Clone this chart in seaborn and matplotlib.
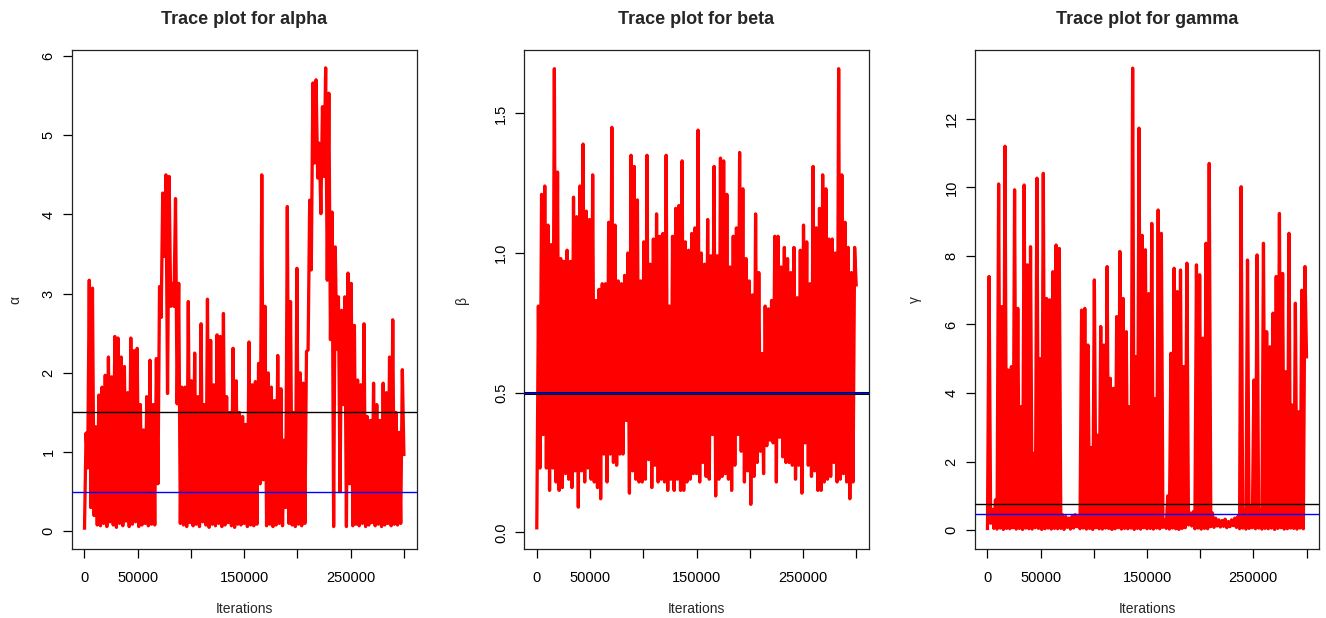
import numpy as np
import pandas as pd
import matplotlib
matplotlib.use("Agg")
import matplotlib.pyplot as plt
import seaborn as sns

# ---------------- data ----------------
N_ITER = 300000
BIN = 3000  # each entry summarises one block of 3000 iterations

# per-block lower / upper extent of the alpha trace
alpha_hi = [1.24, 3.17, 3.07, 1.32, 1.72, 1.82, 1.97, 2.20, 1.95, 2.46,
            2.44, 2.20, 2.08, 1.75, 2.44, 2.28, 2.31, 1.60, 1.28, 1.70,
            2.16, 1.60, 2.18, 3.09, 4.27, 4.50, 4.48, 3.13, 4.20, 3.13,
            1.82, 1.82, 2.90, 1.90, 2.25, 1.70, 2.62, 1.60, 2.93, 2.41,
            1.85, 2.48, 2.46, 2.75, 1.70, 1.50, 2.31, 1.90, 1.50, 1.45,
            1.35, 2.39, 1.85, 1.89, 2.12, 4.50, 2.84, 2.00, 1.82, 1.65,
            2.22, 1.80, 1.15, 4.10, 2.90, 1.50, 3.32, 2.00, 1.87, 2.27,
            4.18, 5.66, 5.70, 4.90, 5.36, 5.85, 5.53, 4.03, 3.59, 2.96,
            2.79, 2.96, 3.26, 3.13, 2.60, 1.91, 1.85, 2.62, 1.45, 1.40,
            1.87, 1.60, 1.40, 1.87, 1.75, 2.20, 2.67, 1.50, 1.25, 2.04]
alpha_lo = [0.02, 0.80, 0.30, 0.20, 0.08, 0.07, 0.10, 0.06, 0.12, 0.08,
            0.05, 0.10, 0.07, 0.13, 0.06, 0.09, 0.12, 0.06, 0.08, 0.10,
            0.07, 0.09, 0.08, 0.60, 2.70, 3.47, 1.74, 2.84, 2.84, 1.61,
            0.10, 0.08, 0.06, 0.11, 0.07, 0.09, 0.06, 0.12, 0.08, 0.05,
            0.09, 0.07, 0.10, 0.06, 0.08, 0.11, 0.07, 0.05, 0.09, 0.08,
            0.10, 0.06, 0.08, 0.07, 0.09, 0.60, 0.65, 0.07, 0.09, 0.06,
            0.08, 0.10, 0.07, 0.30, 0.10, 0.08, 0.06, 0.09, 0.07, 0.10,
            2.29, 3.30, 4.65, 4.46, 4.01, 4.48, 3.17, 2.42, 0.06, 2.30,
            0.50, 1.60, 0.06, 0.60, 0.07, 0.09, 0.07, 0.10, 0.06, 0.08,
            0.11, 0.07, 0.09, 0.06, 0.08, 0.10, 0.07, 0.09, 0.08, 0.10]
alpha_end = 0.95

beta_hi = [0.81, 1.21, 1.24, 1.10, 1.03, 1.66, 1.29, 0.98, 0.97, 1.01,
           0.97, 1.20, 1.13, 1.24, 1.39, 1.15, 1.12, 1.28, 0.83, 0.87,
           0.89, 0.89, 1.11, 1.45, 1.10, 0.90, 0.89, 0.92, 1.00, 1.35,
           1.31, 1.19, 0.90, 1.04, 1.35, 0.96, 1.05, 1.14, 1.06, 1.07,
           1.35, 0.81, 1.06, 1.16, 1.17, 1.33, 1.04, 1.01, 1.07, 1.09,
           1.44, 1.00, 0.96, 1.12, 0.99, 1.31, 0.99, 1.34, 1.33, 1.21,
           0.95, 1.06, 1.09, 1.36, 1.23, 0.98, 0.90, 0.85, 1.14, 0.93,
           0.64, 0.81, 0.80, 0.83, 1.06, 1.06, 0.95, 1.02, 0.98, 0.93,
           1.02, 0.84, 1.01, 1.10, 1.04, 0.89, 1.31, 1.09, 1.16, 1.28,
           1.23, 1.05, 1.05, 1.00, 1.66, 1.28, 1.11, 1.02, 0.93, 1.02]
beta_lo = [0.01, 0.23, 0.35, 0.23, 0.15, 0.23, 0.18, 0.15, 0.16, 0.21,
           0.19, 0.16, 0.22, 0.09, 0.22, 0.18, 0.23, 0.19, 0.18, 0.16,
           0.12, 0.28, 0.18, 0.28, 0.25, 0.24, 0.28, 0.28, 0.40, 0.14,
           0.22, 0.19, 0.18, 0.18, 0.19, 0.26, 0.16, 0.24, 0.18, 0.19,
           0.18, 0.15, 0.19, 0.15, 0.19, 0.15, 0.15, 0.18, 0.19, 0.21,
           0.21, 0.18, 0.25, 0.20, 0.19, 0.35, 0.13, 0.19, 0.20, 0.21,
           0.19, 0.15, 0.24, 0.35, 0.29, 0.18, 0.22, 0.10, 0.20, 0.25,
           0.29, 0.21, 0.31, 0.33, 0.32, 0.18, 0.34, 0.27, 0.25, 0.25,
           0.24, 0.19, 0.24, 0.14, 0.32, 0.24, 0.20, 0.22, 0.15, 0.15,
           0.18, 0.19, 0.20, 0.25, 0.18, 0.19, 0.21, 0.18, 0.12, 0.18]
beta_end = 0.88

gamma_hi = [7.40, 0.60, 0.88, 10.10, 6.52, 11.20, 4.67, 4.77, 9.93, 6.47,
            3.60, 10.07, 7.74, 8.27, 2.24, 10.27, 5.00, 10.41, 6.76, 6.72,
            7.54, 8.32, 8.22, 0.45, 0.40, 0.35, 0.40, 0.45, 0.40, 6.42,
            6.47, 5.40, 2.40, 7.30, 2.77, 5.94, 5.40, 7.69, 4.43, 4.14,
            6.23, 8.13, 6.76, 5.79, 3.60, 13.48, 5.06, 11.73, 8.60, 8.18,
            6.90, 8.95, 3.84, 9.34, 8.66, 0.30, 1.00, 5.16, 7.64, 6.96,
            7.59, 4.77, 7.79, 0.50, 0.54, 7.74, 7.45, 5.60, 8.37, 10.70,
            0.50, 0.35, 0.30, 0.28, 0.32, 0.25, 0.30, 0.35, 0.40, 10.02,
            0.58, 7.88, 0.68, 4.38, 8.03, 0.58, 8.37, 5.79, 5.35, 6.33,
            7.40, 9.24, 7.49, 4.62, 8.66, 3.65, 6.62, 3.45, 7.00, 7.69]
gamma_lo = [0.00, 0.20, 0.05, 0.03, 0.06, 0.02, 0.05, 0.04, 0.07, 0.03,
            0.05, 0.02, 0.06, 0.04, 0.03, 0.07, 0.05, 0.02, 0.04, 0.06,
            0.03, 0.05, 0.04, 0.05, 0.02, 0.08, 0.03, 0.06, 0.10, 0.04,
            0.06, 0.03, 0.05, 0.02, 0.07, 0.04, 0.03, 0.06, 0.05, 0.02,
            0.04, 0.07, 0.03, 0.05, 0.04, 0.06, 0.02, 0.05, 0.03, 0.07,
            0.04, 0.05, 0.03, 0.06, 0.04, 0.08, 0.05, 0.03, 0.06, 0.04,
            0.02, 0.05, 0.07, 0.15, 0.12, 0.04, 0.06, 0.03, 0.05, 0.04,
            0.10, 0.08, 0.12, 0.09, 0.11, 0.07, 0.10, 0.13, 0.08, 0.04,
            0.06, 0.03, 0.05, 0.07, 0.04, 0.06, 0.03, 0.05, 0.04, 0.06,
            0.02, 0.05, 0.07, 0.03, 0.04, 0.06, 0.05, 0.03, 0.06, 0.04]
gamma_end = 5.01

# reference lines (black, blue)
black_lines = [1.5, 0.5, 0.75]
blue_lines = [0.5, 0.5, 0.48]

titles = ["Trace plot for alpha", "Trace plot for beta", "Trace plot for gamma"]
ylabels = ["\u03b1", "\u03b2", "\u03b3"]
xticks = [0, 50000, 100000, 150000, 200000, 250000, 300000]
xticklabels = ["0", "50000", "", "150000", "", "250000", ""]
yticks_list = [[0, 1, 2, 3, 4, 5, 6], [0.0, 0.5, 1.0, 1.5], [0, 2, 4, 6, 8, 10, 12]]
ytick_labels_list = [["0", "1", "2", "3", "4", "5", "6"],
                     ["0.0", "0.5", "1.0", "1.5"],
                     ["0", "2", "4", "6", "8", "10", "12"]]
ylims = [(-0.227, 6.076), (-0.061, 1.727), (-0.56, 14.01)]

# ---------------- style ----------------
sns.set_style("white")
plt.rcParams["font.family"] = ["Liberation Sans", "DejaVu Sans"]
plt.rcParams["lines.solid_joinstyle"] = "round"
plt.rcParams["lines.solid_capstyle"] = "butt"

fig = plt.figure(figsize=(13.26, 6.18), dpi=100)
W, H = 1326, 618
boxes = [(71.7, 416.7), (524.0, 869.0), (974.7, 1319.3)]
top_px, bot_px = 50.0, 549.3
ylabel_px = [15, 461.7, 915]


def trace_frame(lo, hi, end):
    assert len(lo) == len(hi) == N_ITER // BIN
    xs, ys = [], []
    for i, (l, h) in enumerate(zip(lo, hi)):
        xs += [i * BIN, i * BIN + BIN / 2]
        ys += [l, h]
    xs.append(N_ITER)
    ys.append(end)
    return pd.DataFrame({"iteration": xs, "value": ys})


series = [(alpha_lo, alpha_hi, alpha_end),
          (beta_lo, beta_hi, beta_end),
          (gamma_lo, gamma_hi, gamma_end)]

for k in range(3):
    l, r = boxes[k]
    ax = fig.add_axes([l / W, 1 - bot_px / H, (r - l) / W, (bot_px - top_px) / H])
    df = trace_frame(*series[k])
    sns.lineplot(data=df, x="iteration", y="value", sort=False, estimator=None,
                 color="#FF0000", lw=2.35, ax=ax)
    if k == 1:
        ax.axhline(black_lines[k], color="black", lw=2.2, zorder=3)
        ax.axhline(blue_lines[k], color="#0000FF", lw=1.0, zorder=4)
    else:
        ax.axhline(black_lines[k], color="black", lw=1.0, zorder=3)
        ax.axhline(blue_lines[k], color="#0000FF", lw=1.0, zorder=4)

    ax.set_xlim(-12000, 312000)
    ax.set_ylim(*ylims[k])
    ax.set_xticks(xticks)
    ax.set_xticklabels(xticklabels)
    ax.set_yticks(yticks_list[k])
    ax.set_yticklabels(ytick_labels_list[k], rotation=90, va="center")
    ax.tick_params(axis="both", direction="out", length=6.5, width=0.9,
                   color="black", labelsize=10.5, labelcolor="black",
                   bottom=True, left=True)
    ax.tick_params(axis="x", pad=9)
    ax.tick_params(axis="y", pad=5)
    for s in ax.spines.values():
        s.set_visible(True)
        s.set_color("#222222")
        s.set_linewidth(0.9)

    ax.set_title(titles[k], fontsize=13, fontweight="bold", pad=19)
    ax.set_xlabel("Iterations", fontsize=10)
    ax.xaxis.set_label_coords(0.5, -(609 - bot_px) / (bot_px - top_px))
    ax.xaxis.label.set_va("center")
    ax.set_ylabel(ylabels[k], fontsize=10)
    ax.yaxis.set_label_coords(-(l - ylabel_px[k]) / (r - l), 0.5)
    ax.yaxis.label.set_va("center")

fig.savefig("out.png", dpi=100, facecolor="white")
